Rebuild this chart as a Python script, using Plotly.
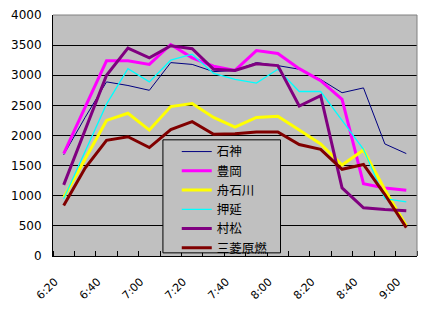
import plotly.graph_objects as go

times = ["6:20", "6:30", "6:40", "6:50", "7:00", "7:10", "7:20", "7:30", "7:40",
         "7:50", "8:00", "8:10", "8:20", "8:30", "8:40", "8:50", "9:00"]

ishigami = [1680, 2300, 2890, 2830, 2750, 3210, 3180, 3060, 3080, 3210, 3160, 3100, 2930, 2710, 2790, 1860, 1700]
toyooka = [1700, 2470, 3240, 3240, 3180, 3510, 3290, 3150, 3080, 3410, 3360, 3110, 2910, 2600, 1200, 1130, 1090]
funaishikawa = [970, 1600, 2250, 2370, 2090, 2480, 2530, 2300, 2140, 2300, 2320, 2090, 1860, 1510, 1760, 1100, 500]
oshinobe = [950, 1750, 2520, 3110, 2890, 3250, 3350, 3030, 2930, 2870, 3100, 2730, 2730, 2250, 1770, 950, 900]
muramatsu = [1180, 2100, 3000, 3450, 3290, 3490, 3440, 3100, 3080, 3190, 3160, 2490, 2660, 1130, 800, 770, 750]
mitsubishi = [840, 1460, 1920, 1980, 1800, 2100, 2230, 2020, 2030, 2060, 2060, 1850, 1770, 1440, 1520, 1020, 470]

names = ["石神", "豊岡", "舟石川", "押延", "村松", "三菱原燃"]
colors = ["#000080", "#FF00FF", "#FFFF00", "#00FFFF", "#800080", "#800000"]
widths = [1, 3, 3, 1.3, 3, 3]
series = [ishigami, toyooka, funaishikawa, oshinobe, muramatsu, mitsubishi]

yticks = [0, 500, 1000, 1500, 2000, 2500, 3000, 3500, 4000]

xs = list(range(len(times)))

fig = go.Figure()
for n, c, w, s in zip(names, colors, widths, series):
    fig.add_trace(go.Scatter(x=xs, y=s, name=n, mode="lines",
                             line=dict(color=c, width=w)))

fig.update_layout(
    width=425, height=310,
    margin=dict(l=53, r=8, t=13, b=48),
    paper_bgcolor="white",
    plot_bgcolor="#C0C0C0",
    font=dict(family="DejaVu Sans", size=12, color="black"),
    showlegend=True,
    legend=dict(
        x=0.34, y=0.494, xanchor="left", yanchor="top",
        bgcolor="rgba(0,0,0,0)", borderwidth=0,
        font=dict(family="Noto Sans CJK JP", size=12.5, color="black"),
        tracegroupgap=0,
    ),
)

fig.update_xaxes(
    range=[-0.5, len(times) - 0.5],
    tickmode="array",
    tickvals=xs[::2],
    ticktext=times[::2],
    tickangle=-45,
    ticks="",
    showgrid=False,
    zeroline=False,
    showline=True, linecolor="black", linewidth=1,
    tickfont=dict(family="DejaVu Sans", size=11),
    ticklabelshift=-9,
    ticklabelstandoff=14,
    minor=dict(tickvals=[i - 0.5 for i in range(len(times) + 1)],
               ticks="inside", ticklen=5, tickcolor="black", showgrid=False),
)
fig.update_yaxes(
    range=[0, 4000],
    tickmode="array",
    tickvals=yticks,
    showgrid=True, gridcolor="black", gridwidth=1,
    zeroline=False,
    showline=True, linecolor="black", linewidth=1,
    ticks="",
    ticklabelstandoff=8,
    tickfont=dict(family="DejaVu Sans", size=12),
)

# legend box
fig.add_shape(type="rect", xref="paper", yref="paper", x0=0.302, x1=0.625, y0=0.013, y1=0.482,
              line=dict(color="black", width=1), fillcolor="#C0C0C0", layer="above")
fig.add_shape(type="line", xref="paper", yref="paper", x0=0, x1=1, y0=1, y1=1,
              line=dict(color="#808080", width=1), layer="above")
fig.add_shape(type="line", xref="paper", yref="paper", x0=1, x1=1, y0=0, y1=1,
              line=dict(color="#808080", width=1), layer="above")

fig.write_html("out.html")
